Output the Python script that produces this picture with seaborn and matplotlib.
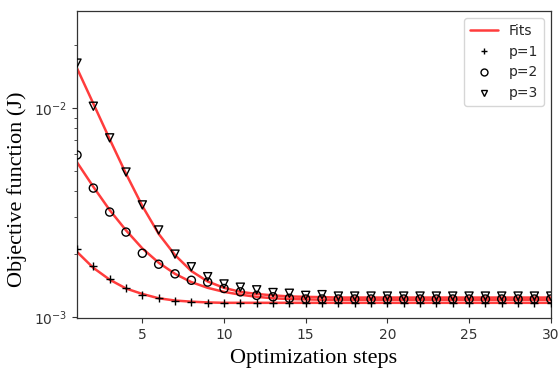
import numpy as np
import pandas as pd
import matplotlib
matplotlib.use("Agg")
import matplotlib.pyplot as plt
from matplotlib.lines import Line2D
import seaborn as sns

steps = list(range(1, 31))

# data points (x 1e-3)
p1 = [2.11, 1.75, 1.52, 1.38, 1.28, 1.23, 1.19, 1.175, 1.17, 1.17,
      1.17, 1.17, 1.17, 1.17, 1.17, 1.17, 1.17, 1.17, 1.17, 1.17,
      1.17, 1.17, 1.17, 1.17, 1.17, 1.17, 1.17, 1.17, 1.17, 1.17]
p2 = [5.96, 4.14, 3.18, 2.55, 2.02, 1.79, 1.61, 1.50, 1.47, 1.37,
      1.32, 1.27, 1.25, 1.23, 1.22, 1.22, 1.22, 1.22, 1.22, 1.22,
      1.22, 1.22, 1.22, 1.22, 1.22, 1.22, 1.22, 1.22, 1.22, 1.22]
p3 = [16.4, 10.2, 7.2, 4.94, 3.44, 2.61, 2.00, 1.74, 1.56, 1.44,
      1.39, 1.35, 1.31, 1.30, 1.27, 1.28, 1.26, 1.26, 1.26, 1.26,
      1.26, 1.26, 1.26, 1.26, 1.26, 1.26, 1.26, 1.26, 1.26, 1.26]

# fitted curves (x 1e-3)
fit1 = [2.05, 1.72, 1.51, 1.37, 1.29, 1.23, 1.20, 1.185, 1.175, 1.17,
        1.17, 1.17, 1.17, 1.17, 1.17, 1.17, 1.17, 1.17, 1.17, 1.17,
        1.17, 1.17, 1.17, 1.17, 1.17, 1.17, 1.17, 1.17, 1.17, 1.17]
fit2 = [5.5, 4.2, 3.25, 2.6, 2.13, 1.82, 1.61, 1.47, 1.38, 1.32,
        1.28, 1.25, 1.23, 1.22, 1.215, 1.21, 1.21, 1.21, 1.21, 1.21,
        1.21, 1.21, 1.21, 1.21, 1.21, 1.21, 1.21, 1.21, 1.21, 1.21]
fit3 = [15.5, 10.5, 7.1, 4.85, 3.4, 2.5, 1.98, 1.66, 1.48, 1.38,
        1.32, 1.29, 1.27, 1.255, 1.25, 1.245, 1.24, 1.24, 1.24, 1.24,
        1.24, 1.24, 1.24, 1.24, 1.24, 1.24, 1.24, 1.24, 1.24, 1.24]

series_labels = ["p=1", "p=2", "p=3"]
x_ticks = [5, 10, 15, 20, 25, 30]

sns.set_style("ticks")
plt.rcParams["font.family"] = ["DejaVu Sans"]

fig = plt.figure(figsize=(5.58, 3.69), dpi=100)
ax = fig.add_axes([0.138, 0.138, 0.849, 0.832])

scale = 1e-3
fits = [fit1, fit2, fit3]
points = [p1, p2, p3]
markers = ["+", "o", "v"]

for f in fits:
    sns.lineplot(x=steps, y=[v * scale for v in f], color="#ff1a1a", alpha=0.85,
                 linewidth=1.8, ax=ax, legend=False)

for pts, m in zip(points, markers):
    if m == "+":
        sns.scatterplot(x=steps, y=[v * scale for v in pts], marker=m, color="black",
                        s=40, linewidth=1.0, ax=ax, legend=False, zorder=3)
    else:
        sns.scatterplot(x=steps, y=[v * scale for v in pts], marker=m, facecolor="none",
                        edgecolor="black", s=34, linewidth=1.0, ax=ax, legend=False, zorder=3)

ax.set_yscale("log")
ax.set_xlim(1, 30)
ax.set_ylim(0.000989, 0.0291)
ax.set_xticks(x_ticks)
ax.set_xticklabels([str(t) for t in x_ticks])

for sp in ax.spines.values():
    sp.set_color("#333333")
    sp.set_linewidth(0.9)
ax.tick_params(axis="both", which="major", labelsize=10, colors="#333333", direction="out", length=3.5)
ax.tick_params(axis="y", which="minor", colors="#333333", length=2)

ax.set_xlabel("Optimization steps", family="Liberation Serif", fontsize=16, color="black", labelpad=5)
ax.set_ylabel("Objective function (J)", family="Liberation Serif", fontsize=16, color="black")
ax.yaxis.set_label_coords(-0.105, 0.42)

handles = [Line2D([0], [0], color="#ff1a1a", alpha=0.85, lw=1.8)]
for m in markers:
    handles.append(Line2D([0], [0], linestyle="", marker=m, color="black",
                          markerfacecolor="none", markersize=5, markeredgewidth=1.0))
labels = ["Fits"] + series_labels
leg = ax.legend(handles, labels, loc="upper right", fontsize=10, frameon=True)
leg.get_frame().set_edgecolor("#cccccc")

fig.savefig("out.png", dpi=100)
